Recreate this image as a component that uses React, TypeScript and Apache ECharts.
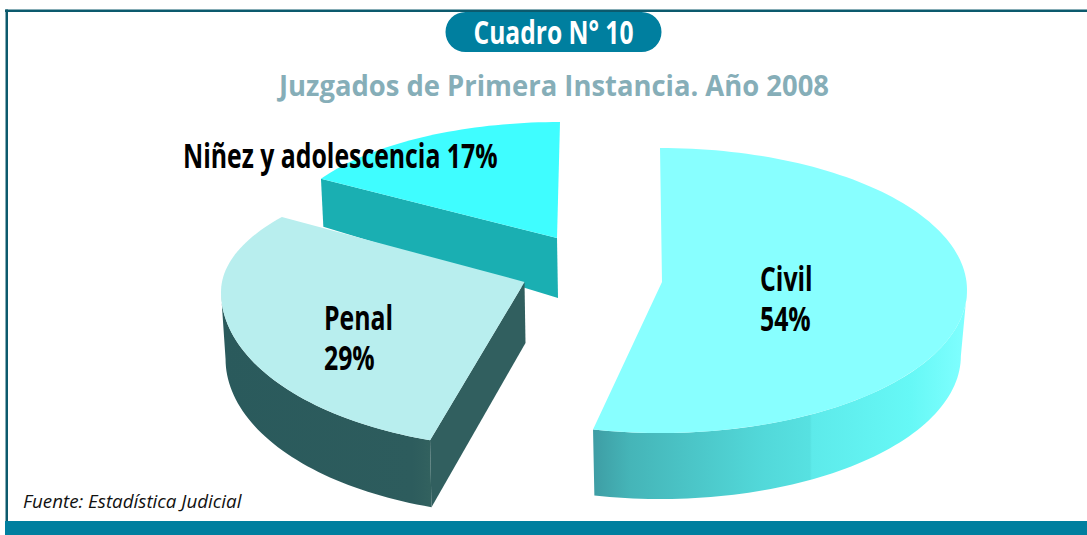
import React, { useEffect, useRef } from "react";
import * as echarts from "echarts";

const categories = ["Civil", "Penal", "Niñez y adolescencia"];
const shares = [54, 29, 17];
const headline = "Cuadro N° 10";
const subtitle = "Juzgados de Primera Instancia. Año 2008";
const source = "Fuente: Estadística Judicial";

const HEAVY = '"Open Sans", sans-serif';
const TEAL = "#007F9F";

// Exploded, tilted layout of each wedge (one per category).
const wedges = [
  {
    cx: 660, cy: 290, rx: 307, ryBack: 142, ryFront: 143, ax: 662, ay: 282,
    depth: 66, apexDepth: 66, k: 0.98, startAdj: 0, endAdj: -1.8, z: 2,
    top: "#88FFFF", cut: null,
    side: { x0: 593, x1: 967, stops: [[0, "#3E9DA4"], [0.1, "#45B5B8"], [0.45, "#52D8D9"], [0.58, "#57E1E1"], [0.585, "#5DEAEA"], [0.85, "#66F8F6"], [1, "#80FFFF"]] },
    label: { x: 760, y: 258, sep: "\n" },
  },
  {
    cx: 525, cy: 292, rx: 304, ryBack: 125, ryFront: 156, ax: 524.5, ay: 282,
    depth: 67, apexDepth: 61, k: 0.985, startAdj: 3.8, endAdj: 8.1, z: 3,
    top: "#B8EEEE", cut: "#315F5F",
    side: { x0: 221, x1: 434, stops: [[0, "#2A5A5C"], [0.9, "#2D5C5D"], [1, "#33625F"]] },
    label: { x: 324, y: 297, sep: "\n" },
  },
  {
    cx: 560, cy: 238, rx: 278, ryBack: 116, ryFront: 116, ax: 557, ay: 238,
    depth: 48, apexDepth: 60, k: 0.99, startAdj: 1.9, endAdj: 0, z: 1,
    top: "#3FFDFF", cut: "#1AAFB2",
    side: { x0: 321, x1: 557, stops: [[0, "#1AAFB2"], [1, "#1AAFB2"]] },
    label: { x: 183, y: 135, sep: " " },
  },
];

const rad = (d: number) => (d * Math.PI) / 180;

function rimPoint(w: any, deg: number, drop: number, k: number) {
  const s = Math.sin(rad(deg));
  const c = Math.cos(rad(deg));
  const ry = c > 0 ? w.ryBack : w.ryFront;
  return [w.cx + w.rx * k * s, w.cy - ry * c + drop];
}

function arcPoints(w: any, from: number, to: number, drop: number, k: number) {
  const pts: number[][] = [];
  const n = Math.max(2, Math.ceil(Math.abs(to - from) / 1.5));
  for (let i = 0; i <= n; i++) pts.push(rimPoint(w, from + ((to - from) * i) / n, drop, k));
  return pts;
}

const total = shares.reduce((a, b) => a + b, 0);

function renderItem(params: any, api: any) {
  const i = params.dataIndex;
  const w = wedges[i];
  const before = shares.slice(0, i).reduce((a, b) => a + b, 0);
  const start = (before / total) * 360 + w.startAdj;
  const end = ((before + api.value(0)) / total) * 360 + w.endAdj;
  const children: any[] = [];

  const visFrom = Math.max(start, 90);
  const visTo = Math.min(end, 270);
  if (visTo > visFrom) {
    const upper = arcPoints(w, visFrom, visTo, 0, 1);
    const lower = arcPoints(w, visFrom, visTo, w.depth, w.k).reverse();
    children.push({
      type: "polygon",
      z2: w.z,
      shape: { points: upper.concat(lower) },
      style: {
        fill: new echarts.graphic.LinearGradient(
          w.side.x0, 0, w.side.x1, 0,
          w.side.stops.map(([offset, color]: any) => ({ offset, color })),
          true
        ),
      },
    });
  }

  if (w.cut) {
    const a = rimPoint(w, start, 0, 1);
    const b = rimPoint(w, start, w.depth, w.k);
    children.push({
      type: "polygon",
      z2: w.z,
      shape: { points: [[w.ax, w.ay], a, b, [w.ax + 1, w.ay + w.apexDepth]] },
      style: { fill: w.cut },
    });
  }

  children.push({
    type: "polygon",
    z2: w.z + 0.5,
    shape: { points: [[w.ax, w.ay], ...arcPoints(w, start, end, 0, 1)] },
    style: { fill: w.top },
  });

  children.push({
    type: "text",
    z2: 10,
    x: w.label.x,
    y: w.label.y,
    scaleX: 0.73,
    style: {
      text: `${categories[i]}${w.label.sep}${api.value(0)}%`,
      font: `bold 34px ${HEAVY}`,
      lineHeight: 40,
      fill: "#000",
      textAlign: "left",
      textVerticalAlign: "top",
    },
  });

  return { type: "group", children };
}

export default function App() {
  const ref = useRef<HTMLDivElement>(null);
  useEffect(() => {
    document.body.style.margin = "0";
    const chart = echarts.init(ref.current!, null, { renderer: "svg" });
    chart.setOption({
      animation: false,
      backgroundColor: "#fff",
      graphic: [
        { type: "rect", z: 0, shape: { x: 5, y: 9.5, width: 1082, height: 2.5 }, style: { fill: "#0C5A6D" } },
        { type: "rect", z: 0, shape: { x: 5.5, y: 9.5, width: 2.5, height: 512 }, style: { fill: "#0C5A6D" } },
        { type: "rect", z: 0, shape: { x: 5, y: 521, width: 1082, height: 14 }, style: { fill: TEAL } },
        { type: "rect", z: 0, shape: { x: 445.5, y: 12, width: 216, height: 40, r: 20 }, style: { fill: TEAL } },
        {
          type: "text", z: 1, x: 553.5, y: 32, scaleX: 0.745,
          style: { text: headline, font: `bold 33px ${HEAVY}`, fill: "#fff", textAlign: "center", textVerticalAlign: "middle" },
        },
        {
          type: "text", z: 1, x: 554, y: 85, scaleX: 0.945,
          style: { text: subtitle, font: '700 29px "Open Sans", sans-serif', fill: "#86AEB8", textAlign: "center", textVerticalAlign: "middle" },
        },
        {
          type: "text", z: 1, x: 23, y: 501,
          style: { text: source, font: 'italic 18.8px "Open Sans", sans-serif', fill: "#111", textAlign: "left", textVerticalAlign: "middle" },
        },
      ],
      series: [
        {
          type: "custom",
          coordinateSystem: "none",
          clip: false,
          silent: true,
          data: shares.map((v) => [v]),
          renderItem,
        },
      ],
    });
    return () => chart.dispose();
  }, []);
  return <div ref={ref} style={{ width: 1087, height: 535 }} />;
}
